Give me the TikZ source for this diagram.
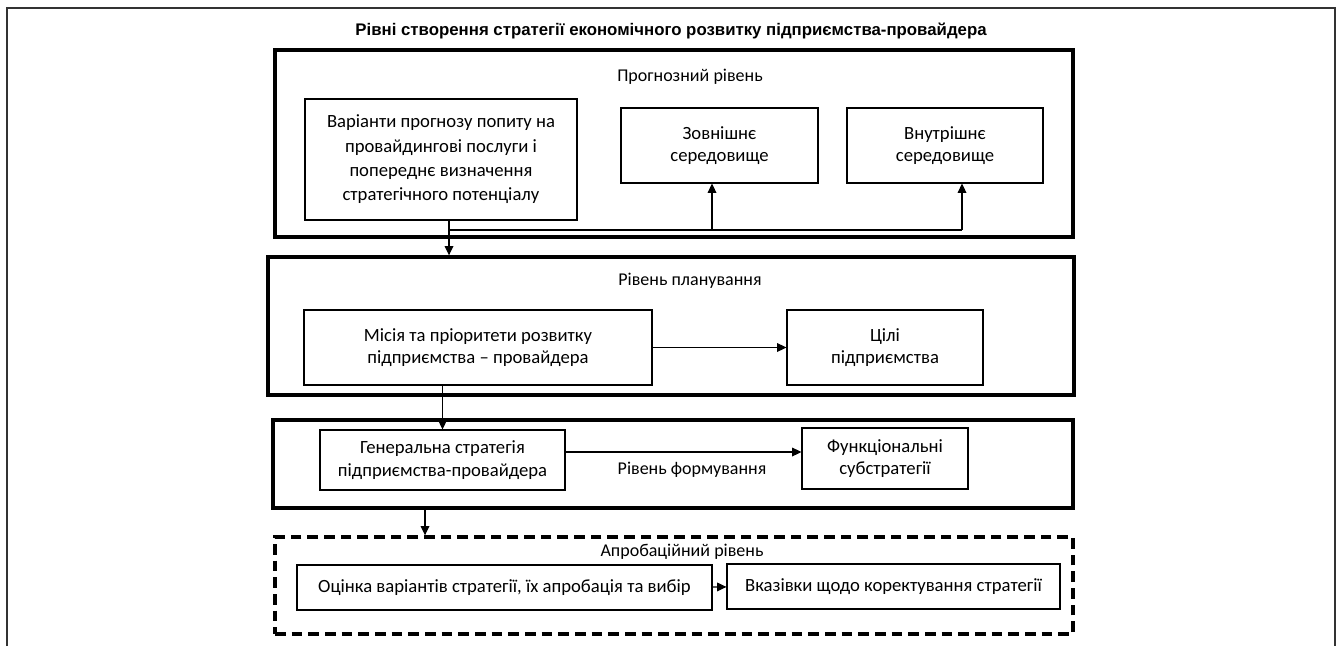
\documentclass[tikz,border=0pt]{standalone}
\usepackage{fontspec}
\setmainfont{Carlito}
\newfontfamily\headfont{Liberation Sans}
\usepackage{tikz}
\usetikzlibrary{shapes,arrows,arrows.meta,positioning,fit,calc}
\tikzstyle{level} = [draw, rectangle, line width=2.5pt, inner sep=0pt]
\tikzstyle{trial} = [level, dash pattern=on 8pt off 4.5pt]
\tikzstyle{item} = [draw, rectangle, line width=0.8pt, align=center, inner sep=0pt, font=\fontsize{14}{17}\selectfont]
\tikzstyle{caption} = [font=\fontsize{13.5}{16}\selectfont]
\tikzstyle{arrow} = [line width=0.9pt,->,>={Triangle[length=7pt,width=6.5pt]}]

\begin{document}
\begin{tikzpicture}[x=0.75pt, y=-0.75pt]
    \useasboundingbox (0,0) rectangle (1338,646);
    \draw[line width=1.5pt, black!80] (7,646) -- (7,8) -- (1335,8) -- (1335,646);
    \node[font=\headfont\bfseries\fontsize{12.6}{15}\selectfont] (title) at (671,31) {Рівні створення стратегії економічного розвитку підприємства-провайдера};

    % прогнозний рівень
    \node[level, minimum width=598.5pt, minimum height=140.25pt] (forecast) at (674,143.5) {};
    \node[caption] (forecastlbl) at (690,77) {Прогнозний рівень};
    \node[item, font=\fontsize{14}{18.2}\selectfont, minimum width=204pt, minimum height=90.75pt] (variants) at (441,159.5) {Варіанти прогнозу попиту на\\провайдингові послуги і\\попереднє визначення\\стратегічного потенціалу};
    \node[item, minimum width=147.75pt, minimum height=56.25pt] (outer) at (719.5,145.5) {Зовнішнє\\середовище};
    \node[item, minimum width=147pt, minimum height=56.25pt] (inner) at (945,145.5) {Внутрішнє\\середовище};

    % рівень планування
    \node[level, minimum width=604.5pt, minimum height=103.5pt] (planning) at (671,326) {};
    \node[caption] (planninglbl) at (690,281) {Рівень планування};
    \node[item, minimum width=261pt, minimum height=56.25pt] (mission) at (478,347.5) {Місія та пріоритети розвитку\\підприємства -- провайдера};
    \node[item, minimum width=147pt, minimum height=56.25pt] (goals) at (885,347.5) {Цілі\\підприємства};

    % рівень формування
    \node[level, minimum width=600pt, minimum height=66pt] (forming) at (673,464) {};
    \node[caption] (forminglbl) at (692,470) {Рівень формування};
    \node[item, minimum width=183.75pt, minimum height=45pt] (general) at (442.5,460) {Генеральна стратегія\\підприємства-провайдера};
    \node[item, minimum width=124.5pt, minimum height=45.75pt] (functional) at (885,458.5) {Функціональні\\субстратегії};

    % апробаційний рівень
    \node[trial, minimum width=598.5pt, minimum height=72.75pt] (testing) at (674,585.5) {};
    \node[caption] (testinglbl) at (682,552) {Апробаційний рівень};
    \node[item, minimum width=311.25pt, minimum height=33.75pt] (evaluation) at (504.5,587.5) {Оцінка варіантів стратегії, їх апробація та вибір};
    \node[item, minimum width=249.75pt, minimum height=33.75pt] (correction) at (893.5,586.5) {Вказівки щодо коректування стратегії};

    \coordinate (split) at (449,230);
    \coordinate (toouter) at (712,230);
    \coordinate (toinner) at (962,230);
    \coordinate (down) at (425,508);

    \draw[line width=0.9pt] (variants.south -| split) -- (split) -- (toinner);
    \draw[arrow] (toinner) -- (toinner |- inner.south);
    \draw[arrow] (toouter) -- (toouter |- outer.south);
    \draw[arrow] (split) -- (split |- planning.north);
    \draw[arrow] (mission) -- (goals);
    \draw[arrow] (mission.south -| general.north) -- (general.north);
    \draw[arrow] ([yshift=6pt]general.east) -- ([yshift=6pt]general.east -| functional.west);
    \draw[arrow] (forming.south -| down) -- (testing.north -| down);
    \draw[arrow] (evaluation) -- (correction);
\end{tikzpicture}
\end{document}
